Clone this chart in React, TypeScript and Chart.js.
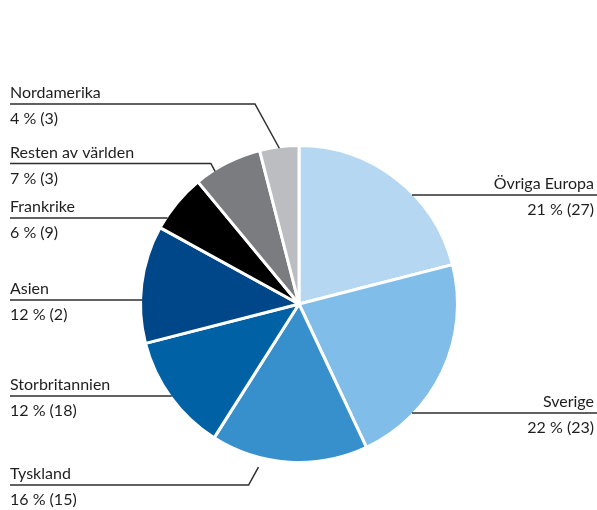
import React, { useEffect, useRef } from "react";
import { Chart, registerables } from "chart.js";

Chart.register(...registerables);

const categories = [
  "Övriga Europa",
  "Sverige",
  "Tyskland",
  "Storbritannien",
  "Asien",
  "Frankrike",
  "Resten av världen",
  "Nordamerika",
];
const shares = [21, 22, 16, 12, 12, 6, 7, 4];
const counts = [27, 23, 15, 18, 2, 9, 3, 3];
const sliceColors = [
  "#b6d7f1",
  "#80bde8",
  "#3790cb",
  "#0061a5",
  "#00478a",
  "#000000",
  "#7b7c80",
  "#bcbdc0",
];

// label placement (annotation layout only)
type LabelLayout = { side: "left" | "right"; ruleY: number; anchorT?: number; gap?: number };
const labelLayout: LabelLayout[] = [
  { side: "right", ruleY: 195 },
  { side: "right", ruleY: 413 },
  { side: "left", ruleY: 485, anchorT: 0.68, gap: 11 },
  { side: "left", ruleY: 396 },
  { side: "left", ruleY: 300 },
  { side: "left", ruleY: 218 },
  { side: "left", ruleY: 163.5, anchorT: 0.29, gap: 0 },
  { side: "left", ruleY: 104, anchorT: 0.5, gap: 0 },
];

const FONT = '16px Lato, "DejaVu Sans", sans-serif';
const TEXT_COLOR = "#1e1e1e";
const RULE_COLOR = "#2e2e2e";

const labelPlugin = {
  id: "pieLabels",
  afterDraw(chart: any) {
    const ctx = chart.ctx as CanvasRenderingContext2D;
    const meta = chart.getDatasetMeta(0);
    const W = chart.width;
    ctx.save();
    ctx.font = FONT;
    ctx.fillStyle = TEXT_COLOR;
    ctx.strokeStyle = RULE_COLOR;
    ctx.lineWidth = 1.5;
    meta.data.forEach((arc: any, i: number) => {
      const lay = labelLayout[i];
      if (!lay) return;
      const p = arc.getProps(["x", "y", "startAngle", "endAngle", "outerRadius"], true);
      const R = p.outerRadius - 1.5;
      const y = lay.ruleY;
      ctx.beginPath();
      if (lay.anchorT !== undefined) {
        const a = p.startAngle + (p.endAngle - p.startAngle) * lay.anchorT;
        const r = R + (lay.gap || 0);
        const ex = p.x + r * Math.cos(a);
        const ey = p.y + r * Math.sin(a);
        const elbowX = ex - 0.55 * Math.abs(ey - y);
        ctx.moveTo(10, y);
        ctx.lineTo(elbowX, y);
        ctx.lineTo(ex, ey);
      } else {
        const dx = Math.sqrt(Math.max(R * R - (y - p.y) * (y - p.y), 0));
        if (lay.side === "left") {
          ctx.moveTo(10, y);
          ctx.lineTo(p.x - dx, y);
        } else {
          ctx.moveTo(p.x + dx, y);
          ctx.lineTo(W, y);
        }
      }
      ctx.stroke();
      const valueText = `${shares[i]} % (${counts[i]})`;
      ctx.textBaseline = "alphabetic";
      if (lay.side === "left") {
        ctx.textAlign = "left";
        ctx.fillText(categories[i], 10, y - 6);
        ctx.fillText(valueText, 10, y + 20);
      } else {
        ctx.textAlign = "right";
        ctx.fillText(categories[i], W - 3, y - 6);
        ctx.fillText(valueText, W - 3, y + 20);
      }
    });
    ctx.restore();
  },
};

export default function App() {
  const ref = useRef<HTMLCanvasElement>(null);
  useEffect(() => {
    document.body.style.margin = "0";
    const chart = new Chart(ref.current!, {
      type: "pie",
      data: {
        labels: categories,
        datasets: [
          {
            data: shares,
            backgroundColor: sliceColors,
            borderColor: "#ffffff",
            borderWidth: 3,
          },
        ],
      },
      options: {
        animation: false,
        responsive: false,
        radius: 158.5,
        layout: { padding: { left: 1, right: 0, top: 98, bottom: 0 } },
        plugins: {
          legend: { display: false },
          tooltip: { enabled: false },
        },
      } as any,
      plugins: [labelPlugin],
    });
    return () => chart.destroy();
  }, []);
  return (
    <div style={{ position: "absolute", left: 0, top: 0, width: 597, height: 510, background: "#fff" }}>
      <canvas ref={ref} width={597} height={510} style={{ width: 597, height: 510 }} />
    </div>
  );
}
